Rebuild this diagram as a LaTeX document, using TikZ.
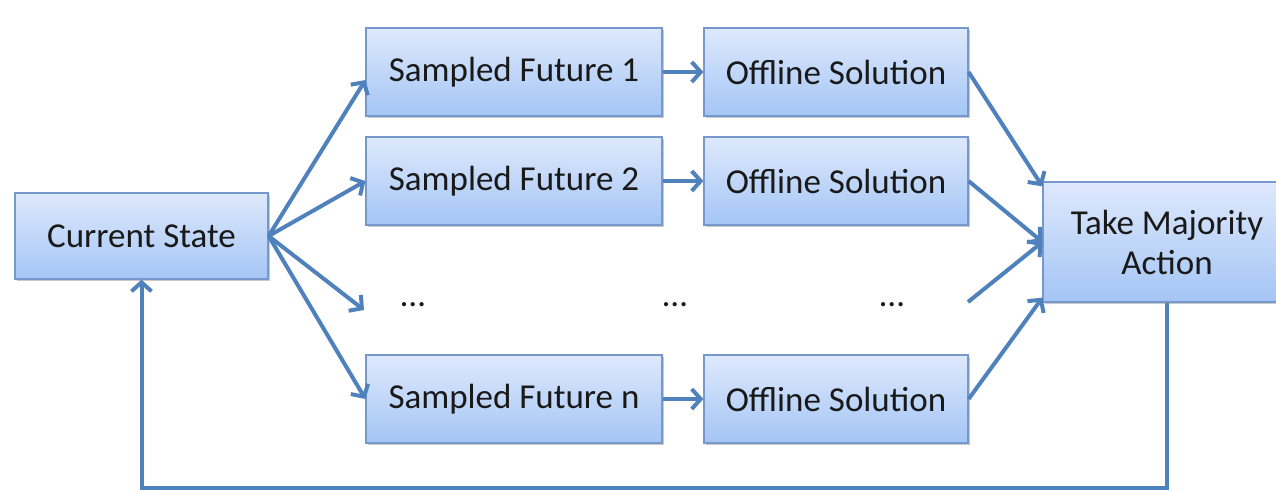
\documentclass[tikz,border=0pt]{standalone}
\usepackage{fontspec}
\setmainfont{Carlito}
\usetikzlibrary{arrows.meta,shadows}
\definecolor{boxtop}{RGB}{222,233,252}
\definecolor{boxbot}{RGB}{164,197,245}
\definecolor{boxborder}{RGB}{118,152,204}
\definecolor{arrowc}{RGB}{79,129,189}
\definecolor{txt}{RGB}{25,25,25}
\begin{document}
\begin{tikzpicture}[x=1pt,y=-1pt,
  box/.style={draw=boxborder, line width=1.2pt, top color=boxtop, bottom color=boxbot,
    minimum height=88pt, inner sep=0pt, font=\fontsize{35}{40}\selectfont, text=txt,
    drop shadow={shadow xshift=2pt,shadow yshift=-2pt,opacity=0.3,fill=black!70}},
  conn/.style={draw=arrowc, line width=4pt, line join=miter, -{Straight Barb[length=9pt,width=20pt]}},
  dotlabel/.style={font=\fontsize{35}{40}\selectfont, text=txt, inner sep=0pt}]
\useasboundingbox (0,0) rectangle (1276,491);
\node[box, minimum width=253pt, minimum height=86pt] (cs) at (141.5,236) {Current State\hspace{14pt}};
\node[box, minimum width=296pt] (sf1) at (514,72) {Sampled Future 1};
\node[box, minimum width=296pt] (sf2) at (514,181) {Sampled Future 2};
\node[box, minimum width=296pt] (sfn) at (514,399) {Sampled Future n};
\node[box, minimum width=264pt] (os1) at (836,72) {Offline Solution};
\node[box, minimum width=264pt] (os2) at (836,181) {Offline Solution};
\node[box, minimum width=264pt] (osn) at (836,399) {Offline Solution};
\node[box, minimum width=248pt, minimum height=120pt, align=center] (tma) at (1167,242) {Take Majority\\Action};
\node[dotlabel] (d1) at (413,305) {…};
\node[dotlabel] (d2) at (675,305) {…};
\node[dotlabel] (d3) at (892,305) {…};
\coordinate (dl) at (364,310);
\coordinate (dr) at (968,302);
\coordinate (fb) at (0,488);
\draw[conn] (cs.east) -- ([yshift=-8pt]sf1.west);
\draw[conn] (cs.east) -- (sf2.west);
\draw[conn] (cs.east) -- (dl);
\draw[conn] (cs.east) -- (sfn.west);
\draw[conn] (sf1.east) -- (os1.west);
\draw[conn] (sf2.east) -- (os2.west);
\draw[conn] (sfn.east) -- (osn.west);
\draw[conn] (os1.east) -- ([yshift=-5pt]tma.north west);
\draw[conn] (os2.east) -- (tma.west);
\draw[conn] (dr) -- (tma.west);
\draw[conn] (osn.east) -- ([yshift=5pt]tma.south west);
\draw[conn] (tma.south) -- (tma.south |- fb) -- (cs.south |- fb) -- (cs.south);
\end{tikzpicture}
\end{document}
